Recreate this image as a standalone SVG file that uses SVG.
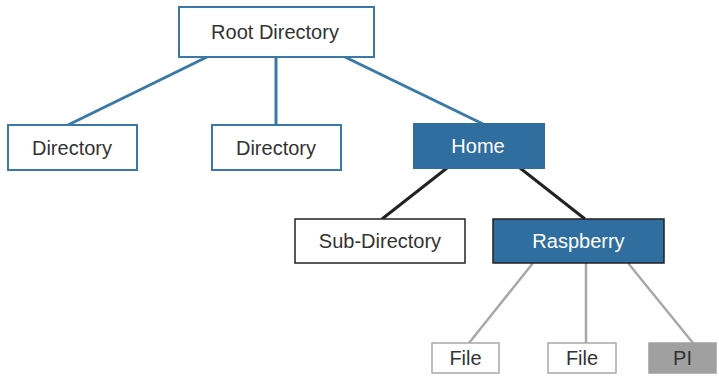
<svg xmlns="http://www.w3.org/2000/svg" width="719" height="377" viewBox="0 0 719 377">
  <style>
    .box { fill: #ffffff; stroke: #3a78a6; stroke-width: 2; }
    .boxDark { fill: #2f6e9e; stroke: #2f6e9e; stroke-width: 2; }
    .boxDark2 { fill: #2f6e9e; stroke: #222222; stroke-width: 1.5; }
    .boxPlain { fill: #ffffff; stroke: #222222; stroke-width: 1.5; }
    .boxFile { fill: #ffffff; stroke: #a8a8a8; stroke-width: 1.5; }
    .boxPi { fill: #a0a0a0; stroke: #a0a0a0; stroke-width: 1.5; }
    text { font-family: "Liberation Sans", Arial, sans-serif; font-size: 20px; text-anchor: middle; fill: #333333; }
    text.light { fill: #ffffff; }
    .lnBlue { stroke: #3a78a6; stroke-width: 3; fill: none; }
    .lnDark { stroke: #222222; stroke-width: 3; fill: none; }
    .lnGray { stroke: #a8a8a8; stroke-width: 2.5; fill: none; }
  </style>

  <g id="connectors">
    <line class="lnBlue" x1="207" y1="57" x2="68" y2="125"/>
    <line class="lnBlue" x1="276" y1="57" x2="276" y2="125"/>
    <line class="lnBlue" x1="345" y1="57" x2="483" y2="124"/>
    <line class="lnDark" x1="447" y1="168" x2="382" y2="219"/>
    <line class="lnDark" x1="520" y1="168" x2="585" y2="219"/>
    <line class="lnGray" x1="533" y1="263" x2="469" y2="343"/>
    <line class="lnGray" x1="586" y1="263" x2="586" y2="343"/>
    <line class="lnGray" x1="628" y1="263" x2="693" y2="343"/>
  </g>

  <g id="root">
    <rect class="box" x="179" y="7" width="195" height="50"/>
    <text x="275" y="39">Root Directory</text>
  </g>
  <g id="dir1">
    <rect class="box" x="8" y="125" width="129" height="45"/>
    <text x="72" y="155">Directory</text>
  </g>
  <g id="dir2">
    <rect class="box" x="212" y="125" width="129" height="45"/>
    <text x="276" y="155">Directory</text>
  </g>
  <g id="home">
    <rect class="boxDark" x="414" y="124" width="130" height="44"/>
    <text class="light" x="478" y="153">Home</text>
  </g>
  <g id="subdir">
    <rect class="boxPlain" x="295" y="219" width="170" height="44"/>
    <text x="380" y="248">Sub-Directory</text>
  </g>
  <g id="raspberry">
    <rect class="boxDark2" x="493" y="219" width="171" height="44"/>
    <text class="light" x="578.5" y="248">Raspberry</text>
  </g>
  <g id="file1">
    <rect class="boxFile" x="432" y="343" width="67" height="30"/>
    <text x="465.5" y="365">File</text>
  </g>
  <g id="file2">
    <rect class="boxFile" x="548" y="343" width="68" height="30"/>
    <text x="582" y="365">File</text>
  </g>
  <g id="pi">
    <rect class="boxPi" x="649" y="343" width="67" height="30"/>
    <text x="682.5" y="365">PI</text>
  </g>
</svg>
